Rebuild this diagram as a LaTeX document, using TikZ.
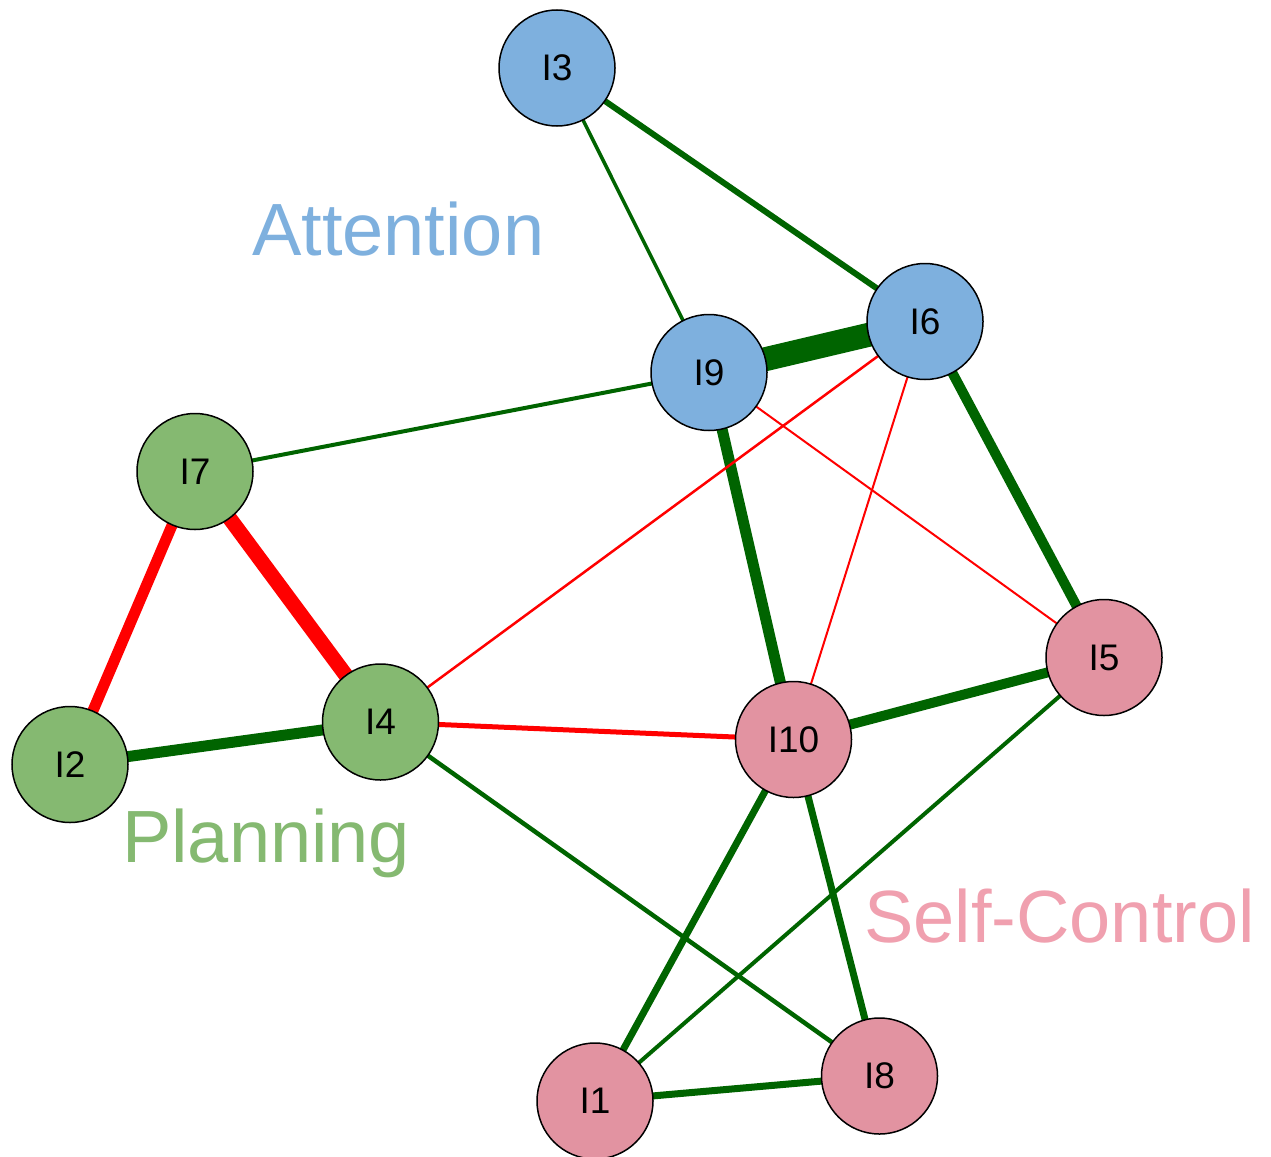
\documentclass[tikz,border=0pt]{standalone}
\usepackage{fontspec}
\setmainfont{Liberation Sans}
\usetikzlibrary{backgrounds}
\definecolor{nblue}{RGB}{126,176,222}
\definecolor{ngreen}{RGB}{133,185,113}
\definecolor{npink}{RGB}{226,147,161}
\definecolor{tblue}{RGB}{126,176,222}
\definecolor{tgreen}{RGB}{133,185,113}
\definecolor{tpink}{RGB}{240,160,175}
\definecolor{pos}{RGB}{0,100,0}
\definecolor{neg}{RGB}{255,0,0}
\tikzset{
  item/.style={circle, draw=black, line width=1.5pt, minimum size=116pt, inner sep=0pt,
    font=\fontsize{37}{37}\selectfont},
  grp/.style={anchor=base west, inner sep=0pt, font=\fontsize{74}{74}\selectfont},
  pe/.style={draw=pos, line cap=butt},
  ne/.style={draw=neg, line cap=butt}
}
\begin{document}
\begin{tikzpicture}[x=1pt, y=-1pt]
\useasboundingbox (0,0) rectangle (1271,1156);
\node[item, fill=nblue] (I3) at (557,68) {I3};
\node[item, fill=nblue] (I6) at (925,321.5) {I6};
\node[item, fill=nblue] (I9) at (709,372.5) {I9};
\node[item, fill=ngreen] (I7) at (195,471.5) {I7};
\node[item, fill=ngreen] (I4) at (380.5,722) {I4};
\node[item, fill=ngreen] (I2) at (70,764.5) {I2};
\node[item, fill=npink] (I10) at (793.5,739.5) {I10};
\node[item, fill=npink] (I5) at (1104,657.5) {I5};
\node[item, fill=npink] (I1) at (595,1101) {I1};
\node[item, fill=npink] (I8) at (879.5,1076) {I8};
\node[grp, text=tblue] (attn) at (252,255) {Attention};
\node[grp, text=tgreen] (plan) at (122,862) {Planning};
\node[grp, text=tpink] (self) at (864,942) {Self-Control};
\begin{pgfonlayer}{background}
\draw[pe, line width=6pt] (I3.center) -- (I6.center);
\draw[pe, line width=3.5pt] (I3.center) -- (I9.center);
\draw[pe, line width=24pt] (I9.center) -- (I6.center);
\draw[pe, line width=4pt] (I9.center) -- (I7.center);
\draw[pe, line width=11pt] (I9.center) -- (I10.center);
\draw[ne, line width=2pt] (I9.center) -- (I5.center);
\draw[ne, line width=2.5pt] (I6.center) -- (I4.center);
\draw[ne, line width=2pt] (I6.center) -- (I10.center);
\draw[pe, line width=10pt] (I6.center) -- (I5.center);
\draw[ne, line width=11pt] (I7.center) -- (I2.center);
\draw[ne, line width=15pt] (I7.center) -- (I4.center);
\draw[pe, line width=11pt] (I2.center) -- (I4.center);
\draw[ne, line width=5pt] (I4.center) -- (I10.center);
\draw[pe, line width=4.5pt] (I4.center) -- (I8.center);
\draw[pe, line width=10pt] (I10.center) -- (I5.center);
\draw[pe, line width=7pt] (I10.center) -- (I1.center);
\draw[pe, line width=7pt] (I10.center) -- (I8.center);
\draw[pe, line width=4pt] (I5.center) -- (I1.center);
\draw[pe, line width=7pt] (I1.center) -- (I8.center);
\end{pgfonlayer}
\end{tikzpicture}
\end{document}
